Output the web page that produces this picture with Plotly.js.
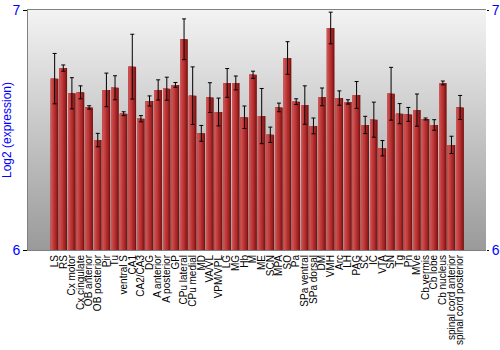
<!DOCTYPE html>
<html>
<head>
<meta charset="utf-8">
<script src="https://cdn.plot.ly/plotly-3.0.1.min.js"></script>
<style>html,body{margin:0;padding:0;background:#fff}#chart{width:500px;height:350px}</style>
</head>
<body>
<div id="chart"></div>
<script>
var regions = ["LS","RS","Cx motor","Cx cingulate","OB anterior","OB posterior","Pir","Tu","ventral S","CA1","CA2/CA3","DG","A anterior","A posterior","GP","CPu lateral","CPu medial","MD","VA/VL","VPM/VPL","LG","MG","Hb","M","ME","SCN","MPA","SO","Pa","SPa ventral","SPa dorsal","DM","VMH","Arc","LH","PAG","SC","IC","VTA","SN","Tg","Pn","MVe","Cb vermis","Cb lobe","Cb nucleus","spinal cord anterior","spinal cord posterior"];
var expression = [6.714,6.758,6.653,6.657,6.594,6.458,6.667,6.676,6.568,6.764,6.547,6.621,6.667,6.672,6.688,6.878,6.643,6.486,6.635,6.575,6.696,6.696,6.553,6.730,6.558,6.480,6.594,6.800,6.618,6.604,6.517,6.638,6.925,6.633,6.617,6.646,6.521,6.543,6.424,6.651,6.568,6.565,6.583,6.546,6.521,6.696,6.438,6.594];
var errors = [0.105,0.013,0.065,0.027,0.007,0.028,0.070,0.050,0.008,0.135,0.013,0.021,0.042,0.048,0.010,0.085,0.120,0.033,0.062,0.058,0.060,0.029,0.047,0.015,0.115,0.032,0.018,0.068,0.012,0.080,0.033,0.037,0.066,0.030,0.009,0.056,0.036,0.073,0.032,0.110,0.042,0.029,0.067,0.004,0.022,0.008,0.036,0.050];
var yTicks = [6, 7];

var stripes = [
  {w:0.88, c:'#7a1414'},
  {w:0.74, c:'#9a2020'},
  {w:0.58, c:'#b02c2c'},
  {w:0.40, c:'#bf3b3b'},
  {w:0.22, c:'#c94949'},
  {w:0.08, c:'#d05c5c'}
];
var traces = stripes.map(function(s){
  return {type:'bar', x:regions, y:expression, width:s.w, offset:-0.44,
    marker:{color:s.c, line:{width:0}}, hoverinfo:'skip', showlegend:false};
});
traces.push({type:'scatter', mode:'markers', x:regions, y:expression,
  marker:{opacity:0, size:1}, showlegend:false,
  error_y:{type:'data', array:errors, visible:true, color:'#000', thickness:1, width:2}});
traces.push({type:'scatter', mode:'markers', x:[regions[0]], y:[6.5], yaxis:'y2',
  marker:{opacity:0}, showlegend:false, hoverinfo:'skip'});

var svg = '<svg xmlns="http://www.w3.org/2000/svg" width="10" height="100" preserveAspectRatio="none"><defs><linearGradient id="g" x1="0" y1="0" x2="0" y2="1"><stop offset="0" stop-color="#f3f3f3"/><stop offset="1" stop-color="#9a9a9a"/></linearGradient></defs><rect width="10" height="100" fill="url(#g)"/></svg>';

var layout = {
  width:500, height:350,
  margin:{l:28, r:14, t:10, b:100},
  paper_bgcolor:'#fff', plot_bgcolor:'rgba(0,0,0,0)',
  barmode:'overlay', bargap:0.1,
  font:{family:'Liberation Sans, Arial, sans-serif', color:'#000'},
  images:[{source:'data:image/svg+xml;utf8,'+encodeURIComponent(svg), xref:'paper', yref:'paper',
    x:0, y:1, sizex:1, sizey:1, sizing:'stretch', xanchor:'left', yanchor:'top', layer:'below'}],
  xaxis:{type:'category', tickmode:'array', tickvals:regions, ticktext:regions,
    tickangle:-90, tickfont:{size:10, color:'#000'}, ticks:'',
    showline:true, mirror:true, linecolor:'#808080', linewidth:1, showgrid:false, automargin:false},
  yaxis:{range:[6,7], tickvals:yTicks, ticktext:['6','7'], ticks:'outside', ticklen:4, tickcolor:'#000',
    tickfont:{size:14, color:'#0000ff'}, showgrid:false, zeroline:false,
    showline:true, linecolor:'#808080', linewidth:1,
    title:{text:'Log2 (expression)', font:{size:12, color:'#0000ff'}, standoff:2}},
  yaxis2:{range:[6,7], overlaying:'y', side:'right', tickvals:yTicks, ticktext:['6','7'],
    ticks:'outside', ticklen:2, tickcolor:'#000', tickfont:{size:14, color:'#0000ff'},
    showgrid:false, zeroline:false, showline:false}
};
Plotly.newPlot('chart', traces, layout, {staticPlot:true, displayModeBar:false});
</script>
</body>
</html>
